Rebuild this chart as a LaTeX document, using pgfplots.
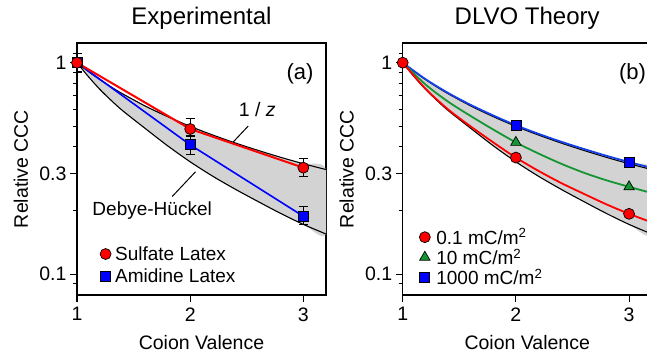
\documentclass[border=0pt]{standalone}
\usepackage{pgfplots}
\pgfplotsset{compat=1.18}
\usepackage{fontspec}
\setmainfont{Liberation Sans}
\definecolor{mygreen}{RGB}{20,150,50}
\definecolor{myblue}{RGB}{20,64,232}
\definecolor{band}{RGB}{211,211,211}
\begin{document}
\begin{tikzpicture}[x=1pt,y=1pt]
% ---------------- left panel
\begin{axis}[scale only axis, width=249pt, height=252pt,
  xmin=1, xmax=3.2, ymode=log, ymin=0.0798, ymax=1.239,
  xtick={1,2,3}, xticklabels={1,2,3},
  ytick={0.1,0.3,1}, yticklabels={0.1,0.3,1},
  minor ytick={0.09,0.2,0.4,0.5,0.6,0.7,0.8,0.9,1.1},
  tick pos=left, tick align=outside,
  major tick length=7pt, minor tick length=4pt,
  tick style={black, line width=1pt},
  axis line style={line width=1.2pt},
  tick label style={font=\fontsize{19.5}{20}\selectfont},
  xticklabel style={yshift=-2pt},
  /pgf/number format/assume math mode=true,
  xlabel={Coion Valence}, ylabel={Relative CCC},
  label style={font=\fontsize{19.5}{20}\selectfont},
  xlabel style={at={(axis description cs:0.5,-0.218)}, anchor=base},
  ylabel style={at={(axis description cs:-0.225,0.5)}, anchor=center},
  title style={at={(axis description cs:0.5,1.0476)}, anchor=base, font=\fontsize{24}{24}\selectfont},
  legend cell align=left,
  legend image code/.code={\draw[#1] plot coordinates {(0pt,0pt)};},
  legend style={draw=none, fill=none, inner sep=0pt, font=\fontsize{19}{20}\selectfont,
    /tikz/every odd column/.append style={column sep=2pt}},
  at={(77pt,60pt)}, anchor=south west, title={Experimental},
  legend style={at={(axis description cs:0.092,0.2016)}, anchor=north west, row sep=3.4pt}]
\addlegendimage{only marks, mark=*, mark size=5.5pt, mark options={fill=red, draw=black, line width=0.7pt}}
\addlegendentry{Sulfate Latex}
\addlegendimage{only marks, mark=square*, mark size=5pt, mark options={fill=blue, draw=black, line width=0.7pt}}
\addlegendentry{Amidine Latex}
\addplot[fill=band, draw=none, smooth, forget plot] coordinates {
 (1,1) (1.1,0.909) (1.2,0.833) (1.3,0.769) (1.4,0.714) (1.6,0.625) (1.8,0.556) (2,0.5)
 (2.2,0.455) (2.4,0.417) (2.6,0.385) (2.8,0.357) (3,0.333) (3.2,0.3125)
 (3.2,0.155) (3,0.172) (2.8,0.1938) (2.6,0.2206) (2.4,0.252) (2.2,0.2905) (2,0.34)
 (1.8,0.405) (1.6,0.49) (1.4,0.595) (1.3,0.665) (1.2,0.75) (1.1,0.86) (1,1)};
\addplot[black, line width=1.1pt, smooth, forget plot] coordinates {
 (1,1) (1.1,0.909) (1.2,0.833) (1.3,0.769) (1.4,0.714) (1.6,0.625) (1.8,0.556) (2,0.5)
 (2.2,0.455) (2.4,0.417) (2.6,0.385) (2.8,0.357) (3,0.333) (3.2,0.3125)};
\addplot[black, line width=1.1pt, smooth, forget plot] coordinates {
 (1,1) (1.1,0.86) (1.2,0.75) (1.3,0.665) (1.4,0.595) (1.6,0.49) (1.8,0.405) (2,0.34)
 (2.2,0.2905) (2.4,0.252) (2.6,0.2206) (2.8,0.1938) (3,0.172) (3.2,0.155)};
\draw[black, line width=1pt] (axis cs:2.513,0.502) -- (axis cs:2.38,0.4218);
\draw[black, line width=1pt] (axis cs:1.841,0.233) -- (axis cs:2.047,0.305);
\node[font=\fontsize{19.5}{20}\selectfont] at (axis cs:2.593,0.5976) {1 / \textit{z}};
\node[font=\fontsize{19}{20}\selectfont] at (axis cs:1.664,0.201) {Debye-Hückel};
\node[font=\fontsize{22}{22}\selectfont] at (axis cs:2.97,0.89) {(a)};
% amidine
\addplot[blue, line width=1.6pt, forget plot] coordinates {(1,1) (2,0.409) (3,0.188)};
\addplot[forget plot, only marks, mark=square*, mark size=5pt, mark options={fill=blue, draw=black, line width=0.7pt},
  /pgfplots/error bars/y dir=both, /pgfplots/error bars/y explicit,
  /pgfplots/error bars/error bar style={black, line width=1pt},
  /pgfplots/error bars/error mark options={rotate=90, mark size=4.5pt, line width=1pt}]
  coordinates {(1,1) +- (0,0.1) (2,0.409) += (0,0.046) -= (0,0.04) (3,0.188) += (0,0.021) -= (0,0.017)};
% sulfate
\addplot[red, line width=2pt, forget plot] coordinates {(1,1) (2,0.486) (3,0.319)};
\addplot[forget plot, only marks, mark=*, mark size=5.5pt, mark options={fill=red, draw=black, line width=0.7pt},
  /pgfplots/error bars/y dir=both, /pgfplots/error bars/y explicit,
  /pgfplots/error bars/error bar style={black, line width=1pt},
  /pgfplots/error bars/error mark options={rotate=90, mark size=4.5pt, line width=1pt}]
  coordinates {(1,1) += (0,0.108) -= (0,0.093) (2,0.486) += (0,0.056) -= (0,0.039) (3,0.319) += (0,0.034) -= (0,0.03)};
\end{axis}
% ---------------- right panel
\begin{axis}[scale only axis, width=249pt, height=252pt,
  xmin=1, xmax=3.2, ymode=log, ymin=0.0798, ymax=1.239,
  xtick={1,2,3}, xticklabels={1,2,3},
  ytick={0.1,0.3,1}, yticklabels={0.1,0.3,1},
  minor ytick={0.09,0.2,0.4,0.5,0.6,0.7,0.8,0.9,1.1},
  tick pos=left, tick align=outside,
  major tick length=7pt, minor tick length=4pt,
  tick style={black, line width=1pt},
  axis line style={line width=1.2pt},
  tick label style={font=\fontsize{19.5}{20}\selectfont},
  xticklabel style={yshift=-2pt},
  /pgf/number format/assume math mode=true,
  xlabel={Coion Valence}, ylabel={Relative CCC},
  label style={font=\fontsize{19.5}{20}\selectfont},
  xlabel style={at={(axis description cs:0.5,-0.218)}, anchor=base},
  ylabel style={at={(axis description cs:-0.225,0.5)}, anchor=center},
  title style={at={(axis description cs:0.5,1.0476)}, anchor=base, font=\fontsize{24}{24}\selectfont},
  legend cell align=left,
  legend image code/.code={\draw[#1] plot coordinates {(0pt,0pt)};},
  legend style={draw=none, fill=none, inner sep=0pt, font=\fontsize{19}{20}\selectfont,
    /tikz/every odd column/.append style={column sep=4pt}},
  at={(402.7pt,60pt)}, anchor=south west, title={DLVO Theory},
  legend style={at={(axis description cs:0.066,0.272)}, anchor=north west, row sep=-1pt}]
\addlegendimage{only marks, mark=*, mark size=5.5pt, mark options={fill=red, draw=black, line width=0.7pt}}
\addlegendentry{0.1 mC/m\textsuperscript{2}}
\addlegendimage{only marks, mark=triangle*, mark size=6pt, mark options={fill=mygreen, draw=black, line width=0.7pt}}
\addlegendentry{10 mC/m\textsuperscript{2}}
\addlegendimage{only marks, mark=square*, mark size=5pt, mark options={fill=blue, draw=black, line width=0.7pt}}
\addlegendentry{1000 mC/m\textsuperscript{2}}
\addplot[fill=band, draw=none, smooth, forget plot] coordinates {
 (1,1) (1.1,0.909) (1.2,0.833) (1.3,0.769) (1.4,0.714) (1.6,0.625) (1.8,0.556) (2,0.5)
 (2.2,0.455) (2.4,0.417) (2.6,0.385) (2.8,0.357) (3,0.333) (3.2,0.3125)
 (3.2,0.155) (3,0.172) (2.8,0.1938) (2.6,0.2206) (2.4,0.252) (2.2,0.2905) (2,0.34)
 (1.8,0.405) (1.6,0.49) (1.4,0.595) (1.3,0.665) (1.2,0.75) (1.1,0.86) (1,1)};
\addplot[black, line width=1.1pt, smooth, forget plot] coordinates {
 (1,1) (1.1,0.909) (1.2,0.833) (1.3,0.769) (1.4,0.714) (1.6,0.625) (1.8,0.556) (2,0.5)
 (2.2,0.455) (2.4,0.417) (2.6,0.385) (2.8,0.357) (3,0.333) (3.2,0.3125)};
\addplot[black, line width=1.1pt, smooth, forget plot] coordinates {
 (1,1) (1.1,0.86) (1.2,0.75) (1.3,0.665) (1.4,0.595) (1.6,0.49) (1.8,0.405) (2,0.34)
 (2.2,0.2905) (2.4,0.252) (2.6,0.2206) (2.8,0.1938) (3,0.172) (3.2,0.155)};
\node[font=\fontsize{22}{22}\selectfont] at (axis cs:3.03,0.89) {(b)};
% 1000
\addplot[myblue, line width=1.8pt, smooth, forget plot] coordinates {
 (1,1) (1.2,0.837) (1.4,0.72) (1.6,0.632) (1.8,0.563) (2,0.506) (2.2,0.461) (2.4,0.423)
 (2.6,0.391) (2.8,0.363) (3,0.339) (3.2,0.318)};
% 10
\addplot[mygreen, line width=1.8pt, smooth, forget plot] coordinates {
 (1,1) (1.2,0.79) (1.4,0.655) (1.6,0.56) (1.8,0.483) (2,0.42) (2.2,0.372) (2.4,0.333)
 (2.6,0.302) (2.8,0.278) (3,0.259) (3.2,0.242)};
% 0.1
\addplot[red, line width=1.8pt, smooth, forget plot] coordinates {
 (1,1) (1.2,0.755) (1.4,0.602) (1.6,0.5) (1.8,0.42) (2,0.356) (2.2,0.308) (2.4,0.27)
 (2.6,0.24) (2.8,0.214) (3,0.193) (3.2,0.176)};
\addplot[only marks, mark=square*, mark size=5pt, mark options={fill=blue, draw=black, line width=0.7pt}, forget plot]
  coordinates {(2,0.506) (3,0.339)};
\addplot[only marks, mark=triangle*, mark size=6pt, mark options={fill=mygreen, draw=black, line width=0.7pt}, forget plot]
  coordinates {(2,0.42) (3,0.259)};
\addplot[only marks, mark=*, mark size=5.5pt, mark options={fill=red, draw=black, line width=0.7pt}, forget plot]
  coordinates {(1,1) (2,0.356) (3,0.193)};
\end{axis}
\pgfresetboundingbox
\path[use as bounding box] (0,0) rectangle (647,355);
\end{tikzpicture}
\end{document}
